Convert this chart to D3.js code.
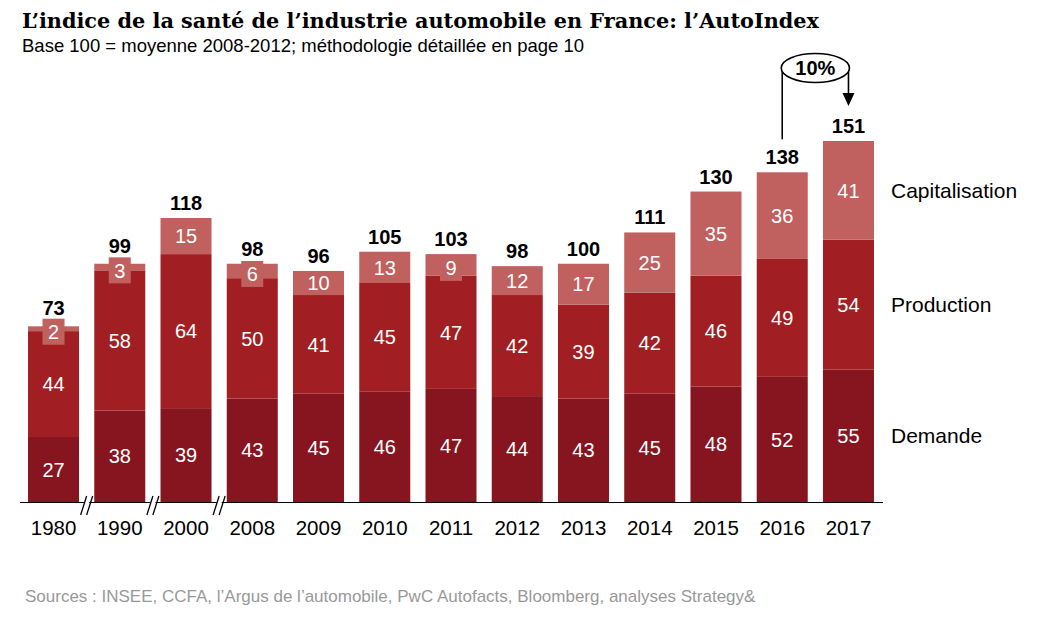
<!DOCTYPE html>
<html>
<head>
<meta charset="utf-8">
<script src="https://cdn.jsdelivr.net/npm/d3@7"></script>
<style>
  body { margin: 0; background: #fff; }
  text { font-family: "Liberation Sans", Arial, sans-serif; }
</style>
</head>
<body>
<script>
// chart values
var years = ["1980", "1990", "2000", "2008", "2009", "2010", "2011", "2012", "2013", "2014", "2015", "2016", "2017"];
var demande = [27, 38, 39, 43, 45, 46, 47, 44, 43, 45, 48, 52, 55];
var production = [44, 58, 64, 50, 41, 45, 47, 42, 39, 42, 46, 49, 54];
var capitalisation = [2, 3, 15, 6, 10, 13, 9, 12, 17, 25, 35, 36, 41];
var totals = [73, 99, 118, 98, 96, 105, 103, 98, 100, 111, 130, 138, 151];
var seriesNames = ["Demande", "Production", "Capitalisation"];
var breakAfter = ["1980", "1990", "2000"];
var growth = "10%";

var width = 1040, height = 617;
var colors = { Demande: "#861520", Production: "#a11f22", Capitalisation: "#c0605f" };

var svg = d3.select("body").append("svg")
  .attr("width", width)
  .attr("height", height);

var rows = years.map(function(y, i) {
  return { year: y, Demande: demande[i], Production: production[i], Capitalisation: capitalisation[i], total: totals[i] };
});

var xScale = d3.scaleBand().domain(years).range([20.4, 881.6]).paddingInner(0.23).paddingOuter(0.115);
var yScale = d3.scaleLinear().domain([0, 150]).range([502, 141]);

var stack = d3.stack().keys(seriesNames);
var layers = stack(rows);

// title
svg.append("text")
  .attr("x", 22).attr("y", 28)
  .style("font-family", "'DejaVu Serif', 'Liberation Serif', serif")
  .style("font-weight", "bold")
  .style("font-size", "20.8px")
  .text("L\u2019indice de la sant\u00e9 de l\u2019industrie automobile en France: l\u2019AutoIndex");

svg.append("text")
  .attr("x", 22).attr("y", 52)
  .style("font-size", "18.5px")
  .text("Base 100 = moyenne 2008-2012; m\u00e9thodologie d\u00e9taill\u00e9e en page 10");

var g = svg.append("g");

// bars
var layer = g.selectAll(".layer")
  .data(layers)
  .enter().append("g")
  .attr("class", "layer")
  .attr("fill", function(d) { return colors[d.key]; });

layer.selectAll("rect")
  .data(function(d) { return d; })
  .enter().append("rect")
  .attr("x", function(d) { return xScale(d.data.year); })
  .attr("y", function(d) { return yScale(d[1]); })
  .attr("width", xScale.bandwidth())
  .attr("height", function(d) { return yScale(d[0]) - yScale(d[1]); });

// segment labels; thin segments get a small box behind the label
var labelTop = {};
layers.forEach(function(l) {
  l.forEach(function(d) {
    var v = d.data[l.key];
    var cx = xScale(d.data.year) + xScale.bandwidth() / 2;
    var cy = (yScale(d[0]) + yScale(d[1])) / 2;
    var small = (yScale(d[0]) - yScale(d[1])) < 24;
    if (small) {
      cy += 3;
      g.append("rect")
        .attr("x", cx - 11).attr("y", cy - 13)
        .attr("width", 22).attr("height", 26)
        .attr("fill", colors[l.key]);
      labelTop[d.data.year] = cy - 13;
    }
    g.append("text")
      .attr("x", cx).attr("y", cy)
      .attr("dy", "0.36em")
      .attr("text-anchor", "middle")
      .attr("fill", "#fff")
      .style("font-size", "20px")
      .text(v);
  });
});

// totals
g.selectAll(".total")
  .data(rows)
  .enter().append("text")
  .attr("class", "total")
  .attr("x", function(d) { return xScale(d.year) + xScale.bandwidth() / 2; })
  .attr("y", function(d) {
    var top = yScale(d.Demande + d.Production + d.Capitalisation) - 8;
    if (labelTop[d.year] !== undefined) top = Math.min(top, labelTop[d.year] - 4);
    return top;
  })
  .attr("text-anchor", "middle")
  .style("font-size", "20px")
  .style("font-weight", "bold")
  .text(function(d) { return d.total; });

// x axis
var axis = g.append("g")
  .attr("transform", "translate(0,502.5)")
  .call(d3.axisBottom(xScale).tickSize(0).tickPadding(18));
axis.select(".domain").attr("d", "M20,0H883").attr("stroke", "#000");
axis.selectAll(".tick text")
  .style("font-size", "20.5px")
  .style("font-family", "'Liberation Sans', Arial, sans-serif")
  .attr("fill", "#000");

// axis breaks
breakAfter.forEach(function(y) {
  var i = years.indexOf(y);
  var bx = (xScale(years[i]) + xScale.bandwidth() + xScale(years[i + 1])) / 2;
  g.append("rect").attr("x", bx - 2.5).attr("y", 500).attr("width", 5).attr("height", 5).attr("fill", "#fff");
  [-3, 3].forEach(function(o) {
    g.append("line")
      .attr("x1", bx + o - 3).attr("y1", 515)
      .attr("x2", bx + o + 3).attr("y2", 496)
      .attr("stroke", "#000").attr("stroke-width", 1.3);
  });
});

// legend on the right, aligned with the last bar
var last = layers.map(function(l) { return l[l.length - 1]; });
layers.forEach(function(l, k) {
  var d = last[k];
  g.append("text")
    .attr("x", 891)
    .attr("y", (yScale(d[0]) + yScale(d[1])) / 2)
    .attr("dy", "0.36em")
    .style("font-size", "21px")
    .text(l.key);
});

// growth annotation 2016 -> 2017
var x16 = xScale("2016") + xScale.bandwidth() / 2;
var x17 = xScale("2017") + xScale.bandwidth() / 2;
var top16 = yScale(demande[11] + production[11] + capitalisation[11]);
var ey = 68;
var ecx = (x16 + x17) / 2, erx = (x17 - x16) / 2 + 1;
var ann = g.append("g").attr("stroke", "#000").attr("fill", "none").attr("stroke-width", 1.6);
ann.append("line").attr("x1", x16).attr("y1", top16 - 33).attr("x2", x16).attr("y2", ey);
ann.append("line").attr("x1", x17).attr("y1", ey).attr("x2", x17).attr("y2", 95);
ann.append("ellipse").attr("cx", ecx).attr("cy", ey).attr("rx", erx).attr("ry", 14.5).attr("fill", "#fff");
g.append("path")
  .attr("d", "M" + (x17 - 6) + ",93L" + (x17 + 6) + ",93L" + x17 + ",106Z")
  .attr("fill", "#000");
g.append("text")
  .attr("x", ecx).attr("y", ey)
  .attr("dy", "0.36em")
  .attr("text-anchor", "middle")
  .style("font-size", "20px")
  .style("font-weight", "bold")
  .text(growth);

// sources
svg.append("text")
  .attr("x", 25).attr("y", 602)
  .attr("fill", "#999")
  .style("font-size", "17px")
  .text("Sources : INSEE, CCFA, l\u2019Argus de l\u2019automobile, PwC Autofacts, Bloomberg, analyses Strategy&");
</script>
</body>
</html>
